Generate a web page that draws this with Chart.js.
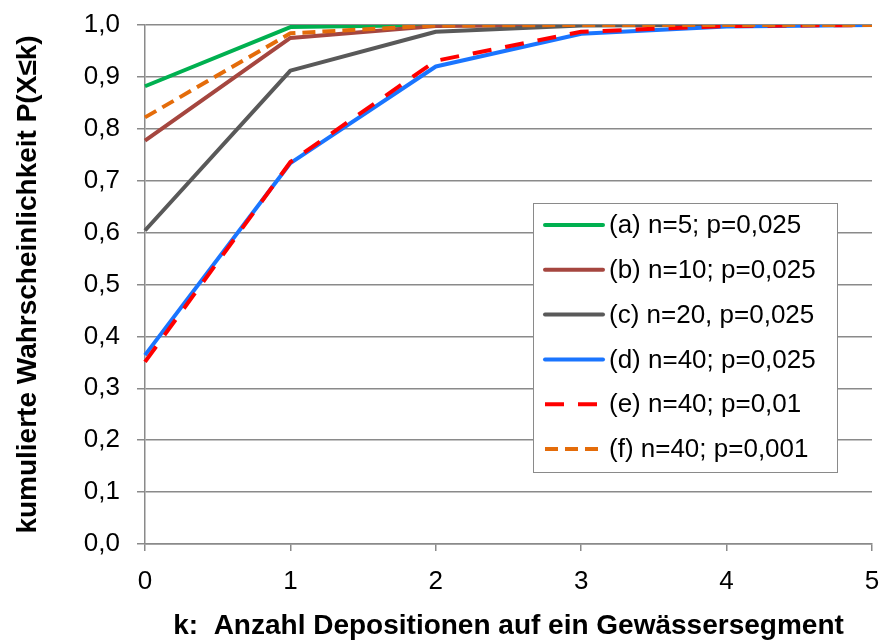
<!DOCTYPE html>
<html>
<head>
<meta charset="utf-8">
<script src="https://cdn.jsdelivr.net/npm/chart.js@4"></script>
<style>
  html, body { margin: 0; padding: 0; background: #fff; }
  #wrap { width: 882px; height: 641px; }
</style>
</head>
<body>
<div id="wrap"><canvas id="chart" width="882" height="641"></canvas></div>
<script>
const kValues = ["0", "1", "2", "3", "4", "5"];
const seriesA = [0.882, 0.996, 1.0, 1.0, 1.0, 1.0];
const seriesB = [0.777, 0.975, 0.998, 1.0, 1.0, 1.0];
const seriesC = [0.604, 0.912, 0.987, 0.999, 1.0, 1.0];
const seriesD = [0.364, 0.734, 0.920, 0.983, 0.997, 1.0];
const seriesE = [0.351, 0.736, 0.931, 0.987, 0.998, 1.0];
const seriesF = [0.822, 0.984, 0.999, 1.0, 1.0, 1.0];
const seriesLabels = [
  "(a) n=5; p=0,025",
  "(b) n=10; p=0,025",
  "(c) n=20, p=0,025",
  "(d) n=40; p=0,025",
  "(e) n=40; p=0,01",
  "(f) n=40; p=0,001"
];

const font = "'Liberation Sans', Arial, sans-serif";
const gridColor = "#8a8a8a";

function line(label, data, color, dash, order) {
  return {
    label: label,
    data: data,
    borderColor: color,
    backgroundColor: color,
    borderWidth: 4,
    borderDash: dash,
    borderCapStyle: "butt",
    borderJoinStyle: "round",
    pointRadius: 0,
    tension: 0,
    fill: false,
    order: order
  };
}

// legend box drawn inside the plot area
const boxLegend = {
  id: "boxLegend",
  afterDatasetsDraw(chart) {
    const ctx = chart.ctx;
    const area = chart.chartArea;
    const left = area.right - 339;
    const top = area.top + 178;
    const w = 304, h = 269;
    ctx.save();
    ctx.fillStyle = "#fff";
    ctx.fillRect(left, top, w, h);
    ctx.strokeStyle = gridColor;
    ctx.lineWidth = 1;
    ctx.strokeRect(left + 0.5, top + 0.5, w, h);
    ctx.font = "26px " + font;
    ctx.textBaseline = "middle";
    ctx.fillStyle = "#000";
    chart.data.datasets.forEach((ds, i) => {
      const y = top + 22 + i * 44.8;
      ctx.beginPath();
      ctx.strokeStyle = ds.borderColor;
      ctx.lineWidth = 4;
      ctx.lineCap = ds.borderDash.length ? "butt" : "round";
      ctx.setLineDash(ds.borderDash);
      ctx.moveTo(left + 12, y);
      ctx.lineTo(left + 70, y);
      ctx.stroke();
      ctx.setLineDash([]);
      ctx.fillText(ds.label, left + 76, y + 1);
    });
    ctx.restore();
  }
};

new Chart(document.getElementById("chart"), {
  type: "line",
  data: {
    labels: kValues,
    datasets: [
      line(seriesLabels[0], seriesA, "#00b050", [], 5),
      line(seriesLabels[1], seriesB, "#a5463f", [], 4),
      line(seriesLabels[2], seriesC, "#595959", [], 3),
      line(seriesLabels[3], seriesD, "#1a75ff", [], 2),
      line(seriesLabels[4], seriesE, "#ff0000", [19, 14], 1),
      line(seriesLabels[5], seriesF, "#e46c0a", [13, 7], 0)
    ]
  },
  options: {
    responsive: false,
    animation: false,
    layout: { padding: { top: 25, right: 10, left: 0, bottom: 0 } },
    plugins: {
      legend: { display: false },
      tooltip: { enabled: false }
    },
    scales: {
      x: {
        offset: false,
        afterFit: (scale) => {
          scale.height = 97;
          scale.paddingLeft = 0;
          scale.paddingRight = 0;
        },
        grid: {
          drawOnChartArea: false,
          drawTicks: true,
          tickLength: 7,
          color: gridColor,
          lineWidth: 1.5
        },
        border: { color: gridColor, width: 1.5 },
        ticks: {
          color: "#000",
          font: { family: font, size: 26 },
          padding: 15,
          maxRotation: 0
        },
        title: {
          display: true,
          text: "k:  Anzahl Depositionen auf ein Gewässersegment",
          color: "#000",
          font: { family: font, size: 28, weight: "bold", lineHeight: 1 },
          padding: { top: 0, bottom: 1 }
        }
      },
      y: {
        min: 0,
        max: 1,
        afterFit: (scale) => {
          scale.width = 145;
          scale.paddingTop = 0;
          scale.paddingBottom = 0;
        },
        grid: {
          color: gridColor,
          lineWidth: 1.5,
          drawTicks: true,
          tickLength: 8
        },
        border: { color: gridColor, width: 1.5 },
        ticks: {
          stepSize: 0.1,
          color: "#000",
          font: { family: font, size: 26 },
          padding: 17,
          callback: (v) => v.toFixed(1).replace(".", ",")
        },
        title: {
          display: true,
          text: "kumulierte Wahrscheinlichkeit P(X≤k)",
          color: "#000",
          font: { family: font, size: 28, weight: "bold", lineHeight: 1 },
          padding: { top: 14, bottom: 0 }
        }
      }
    }
  },
  plugins: [boxLegend]
});
</script>
</body>
</html>
